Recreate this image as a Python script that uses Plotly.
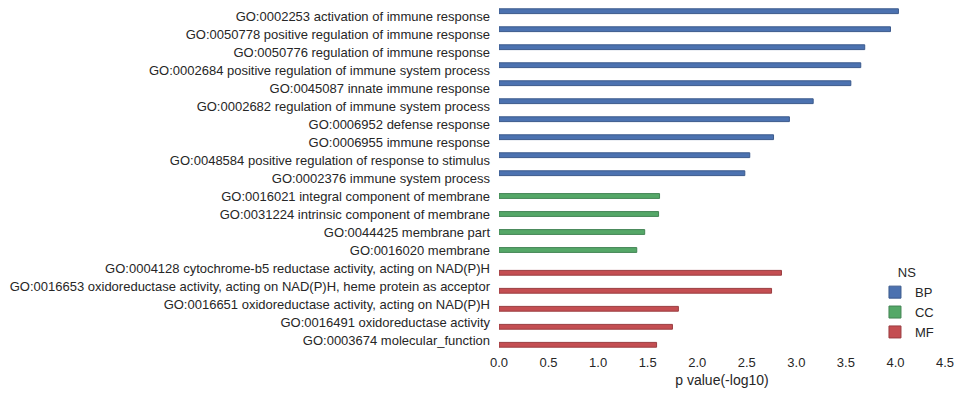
import plotly.graph_objects as go

bp_terms = [
    "GO:0002253 activation of immune response",
    "GO:0050778 positive regulation of immune response",
    "GO:0050776 regulation of immune response",
    "GO:0002684 positive regulation of immune system process",
    "GO:0045087 innate immune response",
    "GO:0002682 regulation of immune system process",
    "GO:0006952 defense response",
    "GO:0006955 immune response",
    "GO:0048584 positive regulation of response to stimulus",
    "GO:0002376 immune system process",
]
bp_values = [4.03, 3.95, 3.69, 3.65, 3.55, 3.17, 2.93, 2.77, 2.53, 2.48]

cc_terms = [
    "GO:0016021 integral component of membrane",
    "GO:0031224 intrinsic component of membrane",
    "GO:0044425 membrane part",
    "GO:0016020 membrane",
]
cc_values = [1.62, 1.61, 1.47, 1.39]

mf_terms = [
    "GO:0004128 cytochrome-b5 reductase activity, acting on NAD(P)H",
    "GO:0016653 oxidoreductase activity, acting on NAD(P)H, heme protein as acceptor",
    "GO:0016651 oxidoreductase activity, acting on NAD(P)H",
    "GO:0016491 oxidoreductase activity",
    "GO:0003674 molecular_function",
]
mf_values = [2.85, 2.75, 1.81, 1.75, 1.59]

x_ticks = [0.0, 0.5, 1.0, 1.5, 2.0, 2.5, 3.0, 3.5, 4.0, 4.5]
x_tick_labels = ["0.0", "0.5", "1.0", "1.5", "2.0", "2.5", "3.0", "3.5", "4.0", "4.5"]

all_terms = bp_terms + cc_terms + mf_terms

series = [
    ("BP", bp_terms, bp_values, "#4C72B0", "#3b5a8c"),
    ("CC", cc_terms, cc_values, "#55A868", "#438454"),
    ("MF", mf_terms, mf_values, "#C44E52", "#9a3d40"),
]

fig = go.Figure()
for name, terms, vals, color, edge in series:
    fig.add_trace(go.Bar(
        y=terms, x=vals, name=name, orientation="h",
        offsetgroup=name, alignmentgroup="ns",
        marker=dict(color=color, line=dict(color=edge, width=1)),
    ))

font_color = "#262626"
fig.update_layout(
    template="none",
    width=961, height=397,
    margin=dict(l=499, r=16, t=7, b=48, autoexpand=False),
    paper_bgcolor="white", plot_bgcolor="white",
    barmode="group", bargap=0.2, bargroupgap=0,
    font=dict(family="Liberation Sans, Arial, sans-serif", size=13, color=font_color),
    showlegend=True,
    legend=dict(
        title=dict(text="NS", side="top center", font=dict(size=13)),
        x=0.843, y=0.005, xanchor="left", yanchor="bottom",
        bgcolor="rgba(0,0,0,0)", font=dict(size=13),
        itemwidth=30, tracegroupgap=2,
    ),
    xaxis=dict(
        range=[0, 4.5], tickvals=x_ticks, ticktext=x_tick_labels,
        showgrid=False, zeroline=False, showline=False, ticks="",
        automargin=False,
        title=dict(text="p value(-log10)", font=dict(size=14), standoff=6),
        tickfont=dict(size=13), ticklabelstandoff=4,
    ),
    yaxis=dict(
        type="category", categoryorder="array", categoryarray=all_terms,
        autorange="reversed", showgrid=False, zeroline=False, showline=False,
        ticks="", ticklabelstandoff=8, tickfont=dict(size=13), automargin=False,
    ),
)

fig.write_html(
    "out.html",
    config={"displayModeBar": False},
    post_script="document.body.style.margin='0';document.body.style.padding='0';",
)
